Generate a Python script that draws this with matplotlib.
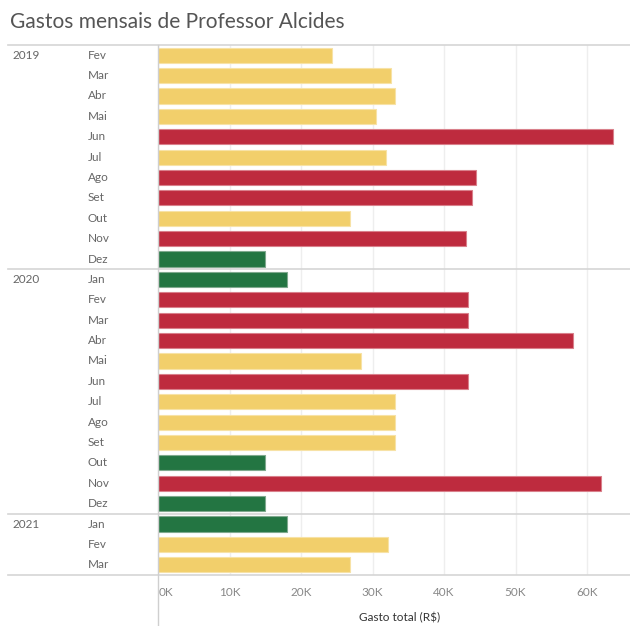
import matplotlib
matplotlib.use("Agg")
import matplotlib.pyplot as plt
from matplotlib.transforms import blended_transform_factory

# ---- data ----
years = ["2019"] * 11 + ["2020"] * 12 + ["2021"] * 3
months = ["Fev", "Mar", "Abr", "Mai", "Jun", "Jul", "Ago", "Set", "Out", "Nov", "Dez",
          "Jan", "Fev", "Mar", "Abr", "Mai", "Jun", "Jul", "Ago", "Set", "Out", "Nov", "Dez",
          "Jan", "Fev", "Mar"]
gasto = [24.3, 32.5, 33.1, 30.4, 63.6, 31.9, 44.5, 43.9, 26.8, 43.1, 15.0,
         18.0, 43.3, 43.3, 58.1, 28.3, 43.3, 33.1, 33.1, 33.1, 14.9, 62.0, 15.0,
         18.0, 32.2, 26.8]  # thousands of R$
faixa = ["medio", "medio", "medio", "medio", "alto", "medio", "alto", "alto", "medio", "alto", "baixo",
         "baixo", "alto", "alto", "alto", "medio", "alto", "medio", "medio", "medio", "baixo", "alto", "baixo",
         "baixo", "medio", "medio"]
xticks = [0, 10, 20, 30, 40, 50, 60]
xtick_labels = ["0K", "10K", "20K", "30K", "40K", "50K", "60K"]

colors = {"baixo": "#237542", "medio": "#F2CF6B", "alto": "#BE2B3E"}
edge = {"baixo": "#7FA98E", "medio": "#F7E2A6", "alto": "#D9808B"}

W, H = 630, 626
fig = plt.figure(figsize=(W / 100, H / 100), dpi=100)
plt.rcParams['font.family'] = ['Lato', 'DejaVu Sans']

top_px, bot_px, left_px = 45, 575, 158.3
ax = fig.add_axes([left_px / W, 1 - bot_px / H, 1 - left_px / W, (bot_px - top_px) / H])

n = len(gasto)
ypos = list(range(n))
ax.barh(ypos, gasto, height=0.74,
        color=[colors[f] for f in faixa],
        edgecolor=[edge[f] for f in faixa], linewidth=0.8, zorder=3)
ax.set_ylim(n - 0.5, -0.5)
ax.set_xlim(0, (W - left_px) / 71.45 * 10)

for s in ax.spines.values():
    s.set_visible(False)
ax.set_yticks([])
ax.set_xticks(xticks)
ax.set_xticklabels(xtick_labels)
ax.tick_params(axis="x", length=0, pad=9, labelsize=8.5, labelcolor="#888888")
ax.get_xticklabels()[0].set_horizontalalignment("left")
ax.grid(axis="x", color="#EEEEEE", linewidth=1, zorder=0)

# vertical axis line through the axis area
fig.add_artist(plt.Line2D([left_px / W, left_px / W], [0, 1 - top_px / H],
                          color="#CFCFCF", linewidth=1, transform=fig.transFigure))

# row headers and separators
tr = blended_transform_factory(fig.transFigure, ax.transData)
prev = None
for i, (yr, m) in enumerate(zip(years, months)):
    if yr != prev:
        ax.text(12 / W, i, yr, transform=tr, ha="left", va="center",
                fontsize=8.5, color="#666666", clip_on=False)
        ax.plot([8 / W, 1], [i - 0.5, i - 0.5], transform=tr, color="#D5D5D5",
                linewidth=1.2, clip_on=False, zorder=5)
        prev = yr
    ax.text(88 / W, i, m, transform=tr, ha="left", va="center",
            fontsize=8.5, color="#666666", clip_on=False)
ax.plot([8 / W, 1], [n - 0.5, n - 0.5], transform=tr, color="#D5D5D5",
        linewidth=1.2, clip_on=False, zorder=5)

fig.text(10 / W, 1 - 22 / H, "Gastos mensais de Professor Alcides", ha="left", va="center",
         fontsize=15, color="#555555", fontweight="normal")
fig.text(400 / W, 1 - 618 / H, "Gasto total (R$)", ha="center", va="center",
         fontsize=8.5, color="#333333")

fig.savefig("out.png", dpi=100)
